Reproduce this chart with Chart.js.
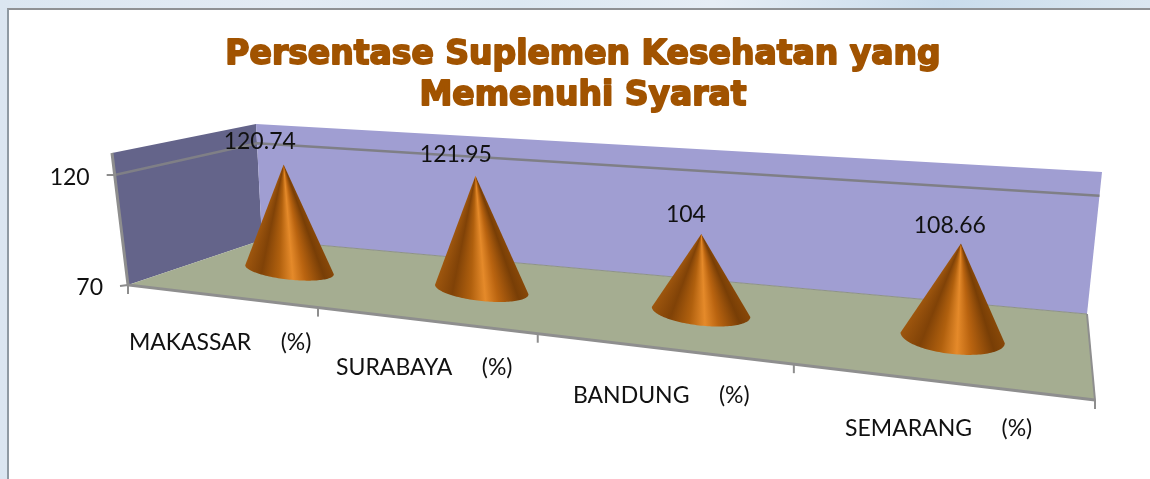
<!DOCTYPE html>
<html>
<head>
<meta charset="utf-8">
<script src="https://cdn.jsdelivr.net/npm/chart.js@4"></script>
<style>
html,body{margin:0;padding:0;width:1150px;height:479px;overflow:hidden;
 background:linear-gradient(90deg,#dbe6f1 0%,#e3ebf4 25%,#dce8f2 45%,#e6edf5 62%,#c9dcec 82%,#dbe7f1 100%);}
#frame{position:absolute;left:7px;top:8px;width:1143px;height:471px;background:#fff;
 border-left:2px solid #8f9aa3;border-top:2px solid #8f9194;box-sizing:border-box;}
canvas{position:absolute;left:0;top:0;}
</style>
</head>
<body>
<div id="frame"></div>
<canvas id="c" width="1150" height="479"></canvas>
<script>
const categories = ["MAKASSAR     (%)", "SURABAYA     (%)", "BANDUNG     (%)", "SEMARANG     (%)"];
const seriesValues = [120.74, 121.95, 104, 108.66];
const titleLines = ["Persentase Suplemen Kesehatan yang", "Memenuhi Syarat"];
const valueTicks = [70, 120];
const axisMin = 70, axisMax = 130;

// Projection of the 3D box: corners as [x, y] on the page
const floorQuad = [[128,285],[1095,400],[1087,314],[262,240]];
const topQuad   = [[112,153],[1116,232],[1102,172],[256,124]];

function homography(q){
  const [p0,p1,p2,p3]=q;
  const dx1=p1[0]-p2[0],dx2=p3[0]-p2[0],sx=p0[0]-p1[0]+p2[0]-p3[0];
  const dy1=p1[1]-p2[1],dy2=p3[1]-p2[1],sy=p0[1]-p1[1]+p2[1]-p3[1];
  const den=dx1*dy2-dx2*dy1;
  const g=(sx*dy2-dx2*sy)/den,h=(dx1*sy-sx*dy1)/den;
  const a=p1[0]-p0[0]+g*p1[0],b=p3[0]-p0[0]+h*p3[0],c=p0[0];
  const d=p1[1]-p0[1]+g*p1[1],e=p3[1]-p0[1]+h*p3[1],f=p0[1];
  return (u,v)=>{const w=g*u+h*v+1;return [(a*u+b*v+c)/w,(d*u+e*v+f)/w];};
}
const floorH=homography(floorQuad), topH=homography(topQuad);
function P(u,v,t){
  const w=u*(1+0.095*(1-u));
  const a=floorH(w,v), b=topH(w,v);
  return [a[0]+(b[0]-a[0])*t, a[1]+(b[1]-a[1])*t];
}
function poly(ctx,pts,fill){
  ctx.beginPath();
  pts.forEach((p,i)=>i?ctx.lineTo(p[0],p[1]):ctx.moveTo(p[0],p[1]));
  ctx.closePath();
  ctx.fillStyle=fill;ctx.fill();
}
function seg(ctx,pts,color,w){
  ctx.beginPath();
  pts.forEach((p,i)=>i?ctx.lineTo(p[0],p[1]):ctx.moveTo(p[0],p[1]));
  ctx.strokeStyle=color;ctx.lineWidth=w;ctx.stroke();
}
const shadeStops=[[0,'#9e560e'],[0.18,'#804207'],[0.38,'#b0600e'],[0.54,'#e58a2a'],[0.68,'#ba6410'],[0.9,'#783e06'],[1,'#884808']];
const LABEL_FONT='23px Lato, "Open Sans", sans-serif';

const box3d={
  id:'box3d',
  beforeDatasetsDraw(chart){
    const ctx=chart.ctx,y=chart.scales.y,x=chart.scales.x;
    ctx.save();
    poly(ctx,[P(0,0,0),P(0,0,1),P(0,1,1),P(0,1,0)],'#64648a');
    poly(ctx,[P(0,1,0),P(0,1,1),P(1,1,1),P(1,1,0)],'#a09ed2');
    poly(ctx,[P(0,0,0),P(1,0,0),P(1,1,0),P(0,1,0)],'#a5ad91');
    const base=y.getPixelForValue(axisMin),span=base-y.getPixelForValue(axisMax);
    ctx.font=LABEL_FONT;ctx.fillStyle='#111';ctx.textBaseline='middle';ctx.textAlign='right';
    y.ticks.forEach(t=>{
      const h=(base-y.getPixelForValue(t.value))/span,a=P(0,0,h);
      if(h>0) seg(ctx,[a,P(0,1,h),P(1,1,h)],'#7f7f86',2.5);
      seg(ctx,[[a[0]-8,a[1]+(h>0?0:1)],a],'#8c8c8c',2);
      ctx.fillText(String(t.value),a[0]-25,a[1]+3);
    });
    seg(ctx,[P(0,1,0),P(1,1,0)],'#8d9288',1);
    seg(ctx,[P(1,1,0),P(1,0,0)],'#8e8e8e',2);
    seg(ctx,[P(0,0,1),P(0,0,0),P(1,0,0)],'#8e8e8e',3);
    const n=categories.length;
    for(let i=0;i<=n;i++){
      const p=P(i/n,0,0);
      seg(ctx,[p,[p[0],p[1]+9]],'#8e8e8e',2);
    }
    ctx.textAlign='center';
    categories.forEach((c,i)=>{
      const u=(x.getPixelForValue(i)-chart.chartArea.left)/chart.chartArea.width;
      const p=P(u,0,0);
      ctx.fillText(x.getLabelForValue(i),p[0]+0.5,p[1]+47);
    });
    ctx.restore();
  },
  afterDatasetsDraw(chart){
    const ctx=chart.ctx,y=chart.scales.y,area=chart.chartArea;
    const base=y.getPixelForValue(axisMin),span=base-y.getPixelForValue(axisMax);
    const meta=chart.getDatasetMeta(0);
    ctx.save();
    meta.data.forEach((bar,i)=>{
      const u=(bar.x-area.left)/area.width,v=0.5;
      const h=(base-bar.y)/span;
      const c=P(u,v,0),tip=P(u,v,h);
      const unit=Math.hypot(tip[0]-c[0],tip[1]-c[1])/(seriesValues[i]-axisMin);
      const rx=unit*21;
      const e=P(u+0.01,v,0),L=Math.hypot(e[0]-c[0],e[1]-c[1]);
      const ax=(e[0]-c[0])/L*rx,ay=(e[1]-c[1])/L*rx;
      const ry=Math.abs(P(u,v-0.2,0)[1]-c[1]);
      c[0]+=2;
      tip[0]+=6;tip[1]+=2;
      // angular shading around the apex
      const grad=ctx.createConicGradient(0,tip[0],tip[1]);
      const angleAt=f=>{
        const co=2*f-1,si=Math.sqrt(Math.max(0,1-co*co));
        let a=Math.atan2(c[1]+co*ay+si*ry-tip[1],c[0]+co*ax-tip[0]);
        if(a<0)a+=2*Math.PI;
        return a/(2*Math.PI);
      };
      [...shadeStops].reverse().forEach(([f,col])=>grad.addColorStop(angleAt(f),col));
      ctx.beginPath();ctx.moveTo(tip[0],tip[1]);
      for(let k=0;k<=72;k++){
        const t=Math.PI*k/72;
        ctx.lineTo(c[0]+Math.cos(t)*ax,c[1]+Math.cos(t)*ay+Math.sin(t)*ry);
      }
      ctx.closePath();
      ctx.fillStyle=grad;ctx.fill();
      ctx.font=LABEL_FONT;ctx.fillStyle='#111';ctx.textAlign='center';ctx.textBaseline='middle';
      ctx.fillText(String(seriesValues[i]),tip[0]-26+17*u,tip[1]-24+7*u);
    });
    ctx.restore();
  },
  afterDraw(chart){
    // heavier title face: outline the library's own title lines
    const ctx=chart.ctx,t=chart.titleBlock,o=t.options;
    const lh=o.font.size*o.font.lineHeight;
    ctx.save();
    ctx.font=`bold ${o.font.size}px ${o.font.family}`;
    ctx.textAlign='center';ctx.textBaseline='middle';
    ctx.strokeStyle=o.color;ctx.lineWidth=1.8;ctx.lineJoin='round';
    titleLines.forEach((s,i)=>ctx.strokeText(s,(t.left+t.right)/2,t.top+o.padding.top+lh*(i+.5)));
    ctx.restore();
  }
};

new Chart(document.getElementById('c'),{
  type:'bar',
  data:{labels:categories,datasets:[{data:seriesValues,backgroundColor:'rgba(0,0,0,0)',borderWidth:0}]},
  plugins:[box3d],
  options:{
    responsive:false,animation:false,
    layout:{padding:{left:16,right:0,top:0,bottom:190}},
    scales:{
      x:{display:false},
      y:{display:false,min:axisMin,max:axisMax,afterBuildTicks(s){s.ticks=valueTicks.map(value=>({value}));}}
    },
    plugins:{
      legend:{display:false},
      tooltip:{enabled:false},
      title:{display:true,text:titleLines,color:'#a15300',
        font:{family:'"DejaVu Sans", sans-serif',weight:'bold',size:33,lineHeight:1.27},
        padding:{top:34,bottom:6}}
    }
  }
});
</script>
</body>
</html>
